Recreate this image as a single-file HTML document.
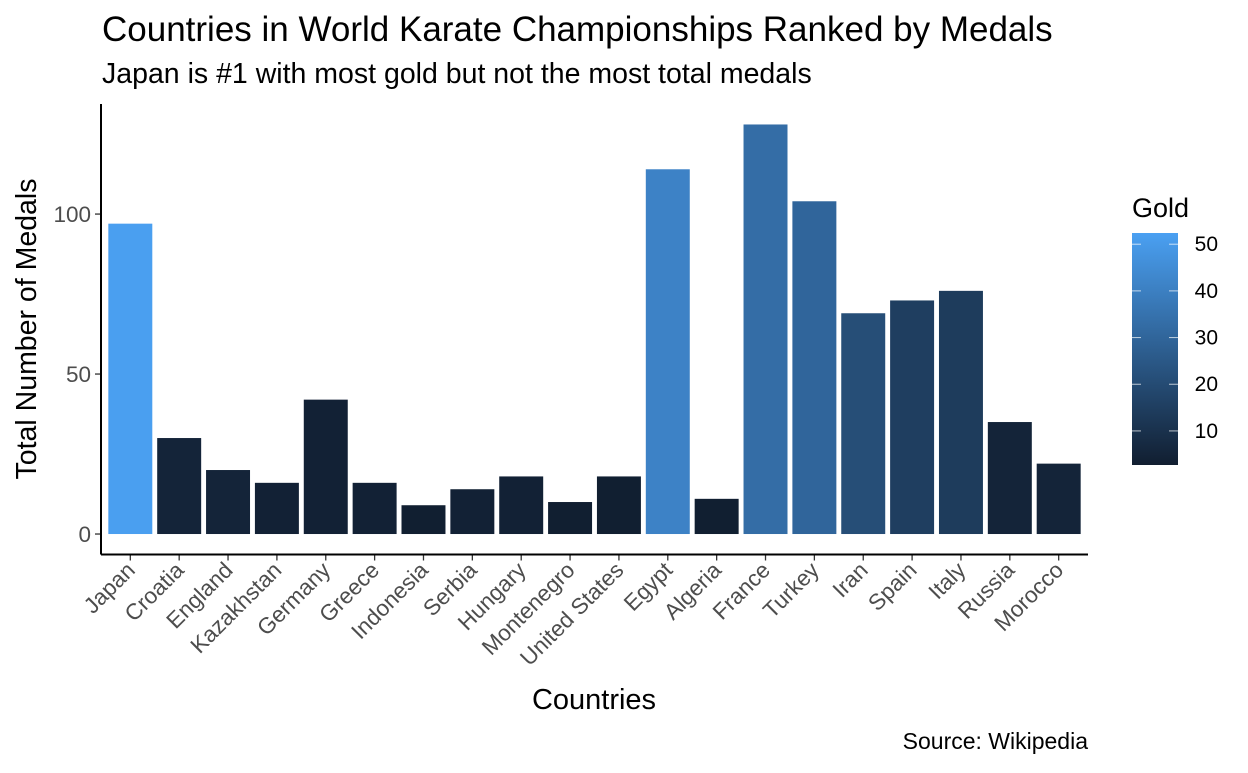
<!DOCTYPE html>
<html><head><meta charset="utf-8"><style>
body{margin:0;background:#fff;font-family:"Liberation Sans",Arial,sans-serif;}
svg text{font-family:"Liberation Sans",Arial,sans-serif;}
</style></head><body>
<svg id="chart" width="1248" height="768">
<defs><linearGradient id="cbar" x1="0" y1="1" x2="0" y2="0">
<stop offset="0" stop-color="#111E30"/><stop offset="1" stop-color="#4AA0F2"/></linearGradient></defs>
<text x="102" y="41" font-size="35" fill="#000">Countries in World Karate Championships Ranked by Medals</text>
<text x="102" y="83" font-size="28.5" fill="#000">Japan is #1 with most gold but not the most total medals</text>
<g id="plot"></g>
<text x="594" y="709" font-size="29" text-anchor="middle">Countries</text>
<text transform="translate(36,329) rotate(-90)" font-size="28.5" text-anchor="middle">Total Number of Medals</text>
<text x="1088" y="749" font-size="23" text-anchor="end">Source: Wikipedia</text>
<text x="1132" y="217" font-size="27">Gold</text>
<rect x="1132" y="233" width="46" height="232" fill="url(#cbar)"/>
<g id="legend"></g>
</svg>
<script>
const countries=["Japan","Croatia","England","Kazakhstan","Germany","Greece","Indonesia","Serbia","Hungary","Montenegro","United States","Egypt","Algeria","France","Turkey","Iran","Spain","Italy","Russia","Morocco"];
const totals=[97,30,20,16,42,16,9,14,18,10,18,114,11,128,104,69,73,76,35,22];
const gold=[52,5,5,4,4,4,3,4,4,3,3,41,3,33,30,21,15,14,5,5];
const yTicks=[0,50,100];
const legendTicks=[10,20,30,40,50];
const NS="http://www.w3.org/2000/svg";
const plot=document.getElementById('plot');
const x0=101,x1=1088,yBot=554.5,yTop=104;
const yMin=-6.4,yMax=134.4;
const band=(x1-x0)/(countries.length+0.2);
function xs(i){return x0+(i+0.6)*band;}
function ys(v){return yBot-(v-yMin)/(yMax-yMin)*(yBot-yTop);}
const gMin=2.7,gMax=52.4;
function col(g){const t=Math.max(0,Math.min(1,(g-gMin)/(gMax-gMin)));
const a=[0x11,0x1E,0x30],b=[0x4A,0xA0,0xF2];
return 'rgb('+a.map((v,k)=>Math.round(v+(b[k]-v)*t)).join(',')+')';}
function mk(t,attrs){const e=document.createElementNS(NS,t);for(const k in attrs)e.setAttribute(k,attrs[k]);return e;}
countries.forEach((c,i)=>{
 const w=band*0.9;
 const r=mk('rect',{x:xs(i)-w/2,y:ys(totals[i]),width:w,height:ys(0)-ys(totals[i]),fill:col(gold[i])});
 
 
 plot.appendChild(r);
 const tk=mk('line',{x1:xs(i),x2:xs(i),y1:yBot,y2:yBot+6,stroke:'#333','stroke-width':1.3});
 
 
 plot.appendChild(tk);
 const tx=mk('text',{transform:'translate('+(xs(i)+6)+','+(yBot+17)+') rotate(-45)','text-anchor':'end','font-size':22.5,fill:'#4d4d4d'});
 tx.textContent=c;
 
 
 plot.appendChild(tx);
});
yTicks.forEach(v=>{
 const tk=mk('line',{x1:x0-6,x2:x0,y1:ys(v),y2:ys(v),stroke:'#333','stroke-width':1.3});
 
 
 plot.appendChild(tk);
 const tx=mk('text',{x:x0-10,y:ys(v)+8,'text-anchor':'end','font-size':22.5,fill:'#4d4d4d'});
 tx.textContent=v;
 
 
 plot.appendChild(tx);
});
const ax=mk('line',{x1:x0,x2:x1,y1:yBot,y2:yBot,stroke:'#000','stroke-width':2});


plot.appendChild(ax);
const ay=mk('line',{x1:x0,x2:x0,y1:yTop,y2:yBot,stroke:'#000','stroke-width':2});


plot.appendChild(ay);
const leg=document.getElementById('legend');
legendTicks.forEach(v=>{
 const y=465-(v-gMin)/(gMax-gMin)*232;
 [[1132,1141],[1169,1178]].forEach(p=>{
  const l=mk('line',{x1:p[0],x2:p[1],y1:y,y2:y,stroke:'#fff','stroke-opacity':0.7,'stroke-width':1});
  
  
  leg.appendChild(l);
 });
 const t=mk('text',{x:1218,y:y+7,'text-anchor':'end','font-size':21});
 t.textContent=v;
 
 
 leg.appendChild(t);
});
</script>
</body></html>
